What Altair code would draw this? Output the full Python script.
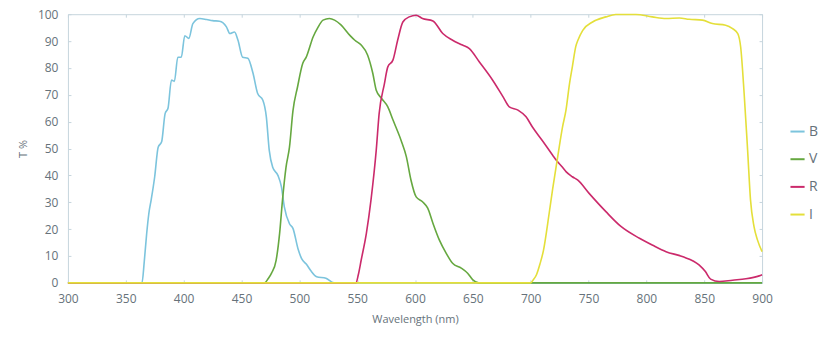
import altair as alt
import pandas as pd

# ---- data ----
SERIES = ["B", "V", "R", "I"]
COLORS = ["#7cc4dd", "#66a840", "#cb2a6b", "#e4df3a"]

B_wl = [300, 364, 366, 368, 370, 372, 375, 378, 381, 384, 386.5, 389.5, 392, 395, 398, 401,
        404.5, 408, 414, 420, 425, 431, 437, 440, 444, 447, 451, 455.5, 460, 464, 468.5,
        471.5, 474, 477, 481.5, 484.5, 487, 491.5, 494.5, 499, 502, 506, 510, 515, 523, 530, 900]
B_t = [0, 0, 8, 18, 26, 31, 39.5, 50.5, 52.5, 63, 65, 75.5, 75, 84, 84, 92,
       91, 96.5, 98.4, 98, 97.6, 97.4, 95.3, 92.8, 93.4, 90.3, 84, 83.6, 78, 70.5, 68,
       61.8, 49.4, 43, 40, 35.8, 28.4, 22, 20.3, 12.5, 9, 7, 4.5, 2.3, 1.7, 0, 0]

V_wl = [300, 470, 473, 476, 480, 483, 485.5, 488.5, 491.5, 494.5, 498.5, 503, 506, 512, 516,
        520.5, 526, 530.5, 536, 543.5, 548, 553.5, 559, 563.5, 566.5, 571, 576.5, 581, 588,
        592.5, 596.5, 601, 606.5, 611, 615.5, 621, 627, 632.5, 640, 645.5, 650, 655, 900]
V_t = [0, 0, 1.5, 3.6, 8.5, 18.5, 31, 43, 50.5, 64, 73, 81.7, 84, 91.6, 95,
       97.8, 98.4, 97.8, 96, 92.2, 90.3, 88.5, 84.8, 78, 71.7, 68.7, 65.5, 60.6, 53,
       47, 38.3, 32, 30.2, 27.8, 22.2, 16, 11, 7.3, 5.5, 3.6, 1.1, 0, 0]

R_wl = [300, 549, 551, 553.5, 558, 562, 566.5, 569, 573.5, 576.5, 581, 585, 589.5, 595, 601,
        606.5, 615.5, 624, 632.5, 641, 647, 655.5, 667, 676, 681.5, 689, 696, 701.5, 710,
        719, 722, 727.5, 730.5, 736, 740.5, 750.5, 765, 778, 794, 805, 817, 831, 845.5, 851,
        855.5, 863, 874.5, 886, 897.5, 900]
R_t = [0, 0, 3, 8.5, 18.5, 31, 49.4, 63, 74, 80.4, 83, 90.3, 97.1, 99, 99.6,
       98.4, 97.5, 92.8, 90.3, 88.5, 87.2, 82.3, 75.5, 69.3, 65.5, 64.3, 61.8, 58, 53,
       47.5, 45.7, 43, 41.4, 39.5, 38.3, 33.3, 26.5, 21, 16.6, 14.1, 11.6, 9.8, 6.7, 4.2,
       1.4, 0.5, 1, 1.5, 2.6, 3]

I_wl = [300, 700, 702, 705, 708, 711, 716, 719, 723, 727.5, 730.5, 733.5, 736, 739, 741, 745,
        753.5, 765, 773.5, 791, 805, 817, 828.5, 837, 848.5, 857, 868.5, 874.5, 879, 881.5,
        884.5, 887.5, 890, 893, 896, 900]
I_t = [0, 0, 1, 3, 7, 12, 26, 35, 46, 58, 64.3, 74, 80.4, 88, 90.5, 94,
       97.1, 99, 99.9, 99.9, 99, 98.4, 98.6, 98.1, 97.8, 96.5, 95.9, 94.6, 92.8, 87.8,
       70.5, 49.4, 30.9, 21, 16, 11.6]

X_TICKS = list(range(300, 901, 50))
Y_TICKS = list(range(0, 101, 10))

rows = []
for k, (name, wl, t) in enumerate([("B", B_wl, B_t), ("V", V_wl, V_t),
                                   ("R", R_wl, R_t), ("I", I_wl, I_t)]):
    for w, v in zip(wl, t):
        rows.append({"series": name, "wl": w, "t": v, "k": k})
df = pd.DataFrame(rows)

FRAME = "#c6d5dd"
LABEL = "#66727a"
FONT = "Open Sans"
TICK = 3

xscale = alt.Scale(domain=[300, 900], nice=False, zero=False)
yscale = alt.Scale(domain=[0, 100], nice=False)

lines = alt.Chart(df).mark_line(strokeWidth=1.6, interpolate="monotone").encode(
    x=alt.X("wl:Q", scale=xscale,
            axis=alt.Axis(values=X_TICKS, title="Wavelength (nm)", grid=False, ticks=True,
                          tickSize=TICK, tickColor=FRAME, offset=-TICK, labelFlush=False,
                          domain=False, labelPadding=11, titlePadding=9)),
    y=alt.Y("t:Q", scale=yscale,
            axis=alt.Axis(values=Y_TICKS, title="T %", grid=False, ticks=True,
                          tickSize=TICK, tickColor=FRAME, offset=-TICK, labelFlush=False,
                          domain=False, labelPadding=10, titlePadding=9)),
    color=alt.Color("series:N", sort=SERIES,
                    scale=alt.Scale(domain=SERIES, range=COLORS),
                    legend=alt.Legend(title=None, orient="none", legendX=722, legendY=109,
                                      symbolType="stroke", symbolSize=200,
                                      symbolStrokeWidth=2, labelFontSize=14,
                                      labelColor=LABEL, labelFont=FONT, rowPadding=11.7,
                                      labelOffset=3)),
    order=alt.Order("k:Q"),
    detail="series:N",
)

frame_axes = alt.Chart(df).mark_line(opacity=0).encode(
    x=alt.X("wl:Q", scale=xscale,
            axis=alt.Axis(orient="top", values=X_TICKS, labels=False, title=None, grid=False,
                          domain=False, ticks=True, tickSize=TICK, tickColor=FRAME,
                          offset=-TICK)),
    y=alt.Y("t:Q", scale=yscale,
            axis=alt.Axis(orient="right", values=Y_TICKS, labels=False, title=None, grid=False,
                          domain=False, ticks=True, tickSize=TICK, tickColor=FRAME,
                          offset=-TICK)),
    detail="series:N",
)

chart = alt.layer(lines, frame_axes).resolve_axis(
    x="independent", y="independent"
).properties(
    width=695, height=269,
    autosize=alt.AutoSizeParams(type="none"),
    padding={"left": 60, "top": 6, "right": 60, "bottom": 50},
).configure_view(
    stroke=FRAME, strokeWidth=1
).configure_axis(
    labelFont=FONT, labelFontSize=12, labelColor=LABEL,
    titleFont=FONT, titleFontSize=11, titleColor=LABEL, titleFontWeight="normal",
)

chart.save("out.html", embed_options={"renderer": "svg", "actions": False})
